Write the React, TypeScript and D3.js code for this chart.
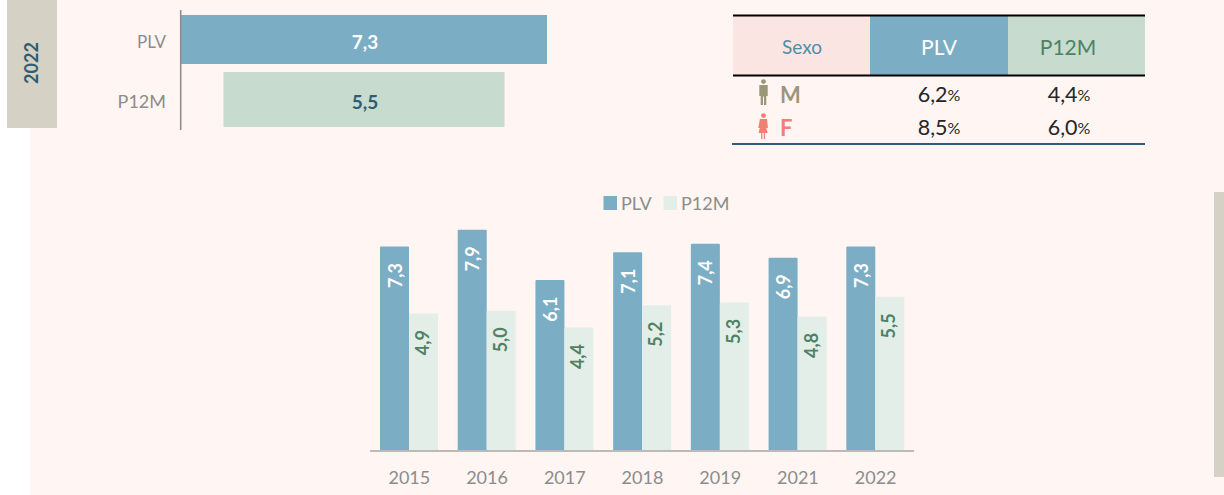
import React from "react";
import * as d3 from "d3";

const years = ["2015", "2016", "2017", "2018", "2019", "2021", "2022"];
const plvValues = [7.3, 7.9, 6.1, 7.1, 7.4, 6.9, 7.3];
const p12mValues = [4.9, 5.0, 4.4, 5.2, 5.3, 4.8, 5.5];
const seriesNames = ["PLV", "P12M"];

const funnelNames = ["PLV", "P12M"];
const funnelValues = [7.3, 5.5];

const sexRows = ["M", "F"];
const sexPlv = [6.2, 8.5];
const sexP12m = [4.4, 6.0];

const FONT = "Lato, 'Open Sans', sans-serif";
const BG = "#fff5f3";
const BLUE = "#7badc4";
const GREEN_TOP = "#c8dbcf";
const GREEN_COL = "#e4eee8";
const GREEN_TEXT = "#4f8264";
const NAVY = "#2f5d75";
const GRAY = "#8c8c8c";
const TAN = "#d5d1c4";
const MALE = "#9c9678";
const FEMALE = "#f08072";

const comma = (v: number) => v.toFixed(1).replace(".", ",");

function Person({ cx, top, color, female }: { cx: number; top: number; color: string; female?: boolean }) {
  return (
    <g fill={color}>
      <circle cx={cx} cy={top + 2.6} r={2.4} />
      {female ? (
        <path
          d={`M${cx - 3.6},${top + 6} h7.2 l0.8,9 l-1.6,0 l1.4,5 h-2.6 v6 h-1.3 v-6 h-1.4 v6 h-1.3 v-6 h-2.6 l1.4,-5 l-1.6,0 z`}
        />
      ) : (
        <path
          d={`M${cx - 4.2},${top + 6} h8.4 v11 h-1.4 v9 h-2.3 v-8.5 h-1 v8.5 h-2.3 v-9 h-1.4 z`}
        />
      )}
    </g>
  );
}

export default function App() {
  const x0 = d3.scaleBand<string>().domain(years).range([370, 914]);
  const x1 = d3.scaleBand<string>().domain(seriesNames).range([10, 68]);
  const y = d3.scaleLinear().domain([0, 8]).range([450.5, 227]);
  const baseY = y(0);

  const funnelW = d3.scaleLinear().domain([5.5, 7.3]).range([281, 366]);
  const funnelCx = 364;

  const colX = d3.scaleOrdinal<string, number>().domain(seriesNames).range([939, 1069]);
  const rowY = d3.scaleBand<string>().domain(sexRows).range([78, 143]);

  const columnSeries = [
    { name: "PLV", values: plvValues, fill: BLUE, text: "#ffffff", dx: 0 },
    { name: "P12M", values: p12mValues, fill: GREEN_COL, text: GREEN_TEXT, dx: -1.5 },
  ];

  return (
    <svg
      width={1224}
      height={495}
      viewBox="0 0 1224 495"
      style={{ position: "absolute", left: 0, top: 0, display: "block" }}
      fontFamily={FONT}
    >
      <rect x={0} y={0} width={1224} height={495} fill="#ffffff" />
      <rect x={30} y={0} width={1194} height={495} fill={BG} />
      <rect x={7} y={0} width={50} height={128} fill={TAN} />
      <rect x={1214} y={192} width={10} height={285} fill={TAN} />
      <text
        transform="translate(31,63) rotate(-90)"
        textAnchor="middle"
        dominantBaseline="central"
        fontSize={18}
        fontWeight={700}
        fill={NAVY}
      >
        2022
      </text>

      {/* Funnel */}
      {funnelNames.map((n, i) => {
        const w = funnelW(funnelValues[i]);
        const bh = i === 0 ? 49 : 55;
        const top = i === 0 ? 15 : 72;
        return (
          <g key={n}>
            <rect x={funnelCx - w / 2} y={top} width={w} height={bh} fill={i === 0 ? BLUE : GREEN_TOP} />
            <text
              x={funnelCx + 1}
              y={i === 0 ? 41 : 101}
              textAnchor="middle"
              dominantBaseline="central"
              fontSize={19}
              fontWeight={700}
              fill={i === 0 ? "#ffffff" : NAVY}
            >
              {comma(funnelValues[i])}
            </text>
            <text
              x={166}
              y={i === 0 ? 41 : 101}
              textAnchor="end"
              dominantBaseline="central"
              fontSize={i === 0 ? 17 : 18}
              fill={GRAY}
            >
              {n}
            </text>
          </g>
        );
      })}
      <line x1={180.7} x2={180.7} y1={10} y2={130} stroke="#8f8f8f" strokeWidth={1.6} />

      {/* Table */}
      <rect x={733} y={16} width={137} height={59} fill="#fae5e3" />
      <rect x={870} y={16} width={138} height={59} fill={BLUE} />
      <rect x={1008} y={16} width={137} height={59} fill={GREEN_TOP} />
      <line x1={733} x2={1145} y1={15.5} y2={15.5} stroke="#000" strokeWidth={2} />
      <line x1={733} x2={1145} y1={75.5} y2={75.5} stroke="#000" strokeWidth={2} />
      <line x1={732} x2={1145} y1={144} y2={144} stroke={NAVY} strokeWidth={2} />
      <text x={802} y={46} textAnchor="middle" dominantBaseline="central" fontSize={19} fill="#4f8ea8">Sexo</text>
      <text x={colX("PLV")} y={46} textAnchor="middle" dominantBaseline="central" fontSize={21} fill="#ffffff">PLV</text>
      <text x={1068} y={46} textAnchor="middle" dominantBaseline="central" fontSize={21} fill={GREEN_TEXT}>P12M</text>
      {sexRows.map((s, i) => {
        const ry = rowY(s)! + rowY.bandwidth() / 2;
        const c = s === "M" ? MALE : FEMALE;
        return (
          <g key={s}>
            <Person cx={763.5} top={i === 0 ? 79 : 113} color={c} female={s === "F"} />
            <text x={780} y={ry + 0.5} dominantBaseline="central" fontSize={22} fontWeight={700} fill={c}>{s}</text>
            {[sexPlv[i], sexP12m[i]].map((v, j) => (
              <text
                key={j}
                x={colX(seriesNames[j])}
                y={ry}
                textAnchor="middle"
                dominantBaseline="central"
                fontSize={21.5}
                fill="#262626"
              >
                {comma(v)}
                <tspan fontSize={16}>%</tspan>
              </text>
            ))}
          </g>
        );
      })}

      {/* Legend */}
      {seriesNames.map((n, i) => {
        const lx = i === 0 ? 603.5 : 663.5;
        return (
          <g key={n}>
            <rect x={lx} y={196} width={13.5} height={14} fill={i === 0 ? BLUE : GREEN_COL} />
            <text x={lx + 17.5} y={203} dominantBaseline="central" fontSize={18} fill={GRAY}>{n}</text>
          </g>
        );
      })}

      {/* Columns */}
      {years.map((yr, i) => (
        <g key={yr} transform={`translate(${x0(yr)},0)`}>
          {columnSeries.map((s) => {
            const bx = x1(s.name)!;
            const bw = x1.bandwidth();
            const top = y(s.values[i]);
            return (
              <g key={s.name}>
                <rect x={bx} y={top} width={bw} height={baseY - top} fill={s.fill} rx={1} />
                <text
                  transform={`translate(${bx + bw / 2 + s.dx},${top + 29}) rotate(-90)`}
                  textAnchor="middle"
                  dominantBaseline="central"
                  fontSize={18}
                  fontWeight={700}
                  fill={s.text}
                >
                  {comma(s.values[i])}
                </text>
              </g>
            );
          })}
          <text
            x={x0.bandwidth() / 2 + 0.5}
            y={477}
            textAnchor="middle"
            dominantBaseline="central"
            fontSize={18}
            fill={GRAY}
          >
            {yr}
          </text>
        </g>
      ))}
      <line x1={370} x2={914} y1={451} y2={451} stroke="#bdb9b6" strokeWidth={2} />
    </svg>
  );
}
